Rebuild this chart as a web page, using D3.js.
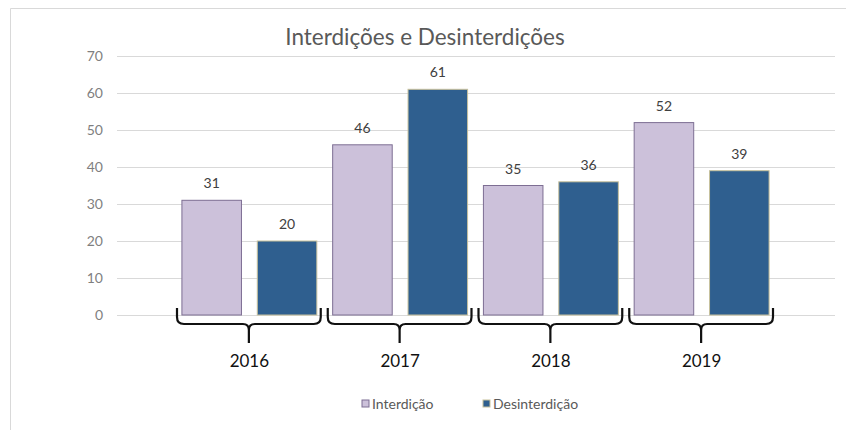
<!DOCTYPE html>
<html>
<head>
<meta charset="utf-8">
<script src="https://cdn.jsdelivr.net/npm/d3@7"></script>
<style>
  body { margin: 0; background: #fff; }
  svg text { font-family: Lato, 'Open Sans', sans-serif; }
</style>
</head>
<body>
<svg id="chart" width="846" height="430"></svg>
<script>
const years = ['2016', '2017', '2018', '2019'];
const seriesNames = ['Interdição', 'Desinterdição'];
const interdicao = [31, 46, 35, 52];
const desinterdicao = [20, 61, 36, 39];
const yTickValues = [0, 10, 20, 30, 40, 50, 60, 70];
const colors = ['#ccc1da', '#2f5f8f'];
const strokes = ['#7d6e93', '#c8c19c'];

const width = 846;
const height = 430;
const margin = { top: 56, right: 11, bottom: 115, left: 117 };

const rows = years.map((year, i) => ({
  year,
  values: [interdicao[i], desinterdicao[i]],
}));

const svg = d3.select('#chart');

// outer frame (only top and left edges show)
svg.append('line')
  .attr('x1', 10.5).attr('x2', width).attr('y1', 8.5).attr('y2', 8.5)
  .attr('stroke', '#d9d9d9');
svg.append('line')
  .attr('x1', 10.5).attr('x2', 10.5).attr('y1', 8.5).attr('y2', height)
  .attr('stroke', '#d9d9d9');

const x0 = d3.scaleBand()
  .domain(years)
  .range([174, 777])
  .padding(0);

const x1 = d3.scaleBand()
  .domain(seriesNames)
  .range([0, x0.bandwidth()])
  .paddingInner(0.21)
  .paddingOuter(0.105);

const y = d3.scaleLinear()
  .domain([0, 70])
  .range([height - margin.bottom, margin.top]);

// grid + y labels
const yAxis = (g) =>
  g.attr('transform', `translate(${margin.left},0)`)
    .call(d3.axisLeft(y).tickValues(yTickValues).tickSize(-(835 - margin.left)).tickPadding(14))
    .call((g) => g.select('.domain').remove())
    .call((g) => g.selectAll('.tick line').attr('stroke', '#d9d9d9'))
    .call((g) => g.selectAll('.tick text')
      .attr('fill', '#7f7f7f')
      .attr('font-size', 14));
svg.append('g').call(yAxis);

// bars
const groups = svg.append('g')
  .selectAll('g')
  .data(rows)
  .join('g')
  .attr('transform', (d) => `translate(${x0(d.year)},0)`);

groups.selectAll('rect')
  .data((d) => d.values.map((v, i) => ({ key: seriesNames[i], value: v, i })))
  .join('rect')
  .attr('x', (d) => x1(d.key))
  .attr('y', (d) => y(d.value))
  .attr('width', x1.bandwidth())
  .attr('height', (d) => y(0) - y(d.value))
  .attr('fill', (d) => colors[d.i])
  .attr('stroke', (d) => strokes[d.i])
  .attr('stroke-width', 1);

groups.selectAll('text.val')
  .data((d) => d.values.map((v, i) => ({ key: seriesNames[i], value: v })))
  .join('text')
  .attr('class', 'val')
  .attr('x', (d) => x1(d.key) + x1.bandwidth() / 2)
  .attr('y', (d) => y(d.value) - 12)
  .attr('text-anchor', 'middle')
  .attr('font-size', 14)
  .attr('fill', '#404040')
  .text((d) => d.value);

// braces under each year
const braceTop = y(0) - 7;
const braceY = y(0) + 9;
const tipY = y(0) + 28;
const bracePath = (a, b) => {
  const m = (a + b) / 2;
  return `M${a},${braceTop} L${a},${braceY - 7} Q${a},${braceY} ${a + 7},${braceY}` +
    ` L${m - 6},${braceY} Q${m},${braceY} ${m},${braceY + 6} L${m},${tipY}` +
    ` M${m},${braceY + 6} Q${m},${braceY} ${m + 6},${braceY}` +
    ` L${b - 7},${braceY} Q${b},${braceY} ${b},${braceY - 7} L${b},${braceTop}`;
};
svg.append('g')
  .selectAll('path')
  .data(years)
  .join('path')
  .attr('d', (d) => bracePath(x0(d) + 3, x0(d) + x0.bandwidth() - 4))
  .attr('fill', 'none')
  .attr('stroke', '#111')
  .attr('stroke-width', 2.2);

svg.append('g')
  .selectAll('text')
  .data(years)
  .join('text')
  .attr('x', (d) => x0(d) + x0.bandwidth() / 2)
  .attr('y', 367)
  .attr('text-anchor', 'middle')
  .attr('font-size', 17)
  .attr('fill', '#111')
  .text((d) => d);

// title
svg.append('text')
  .attr('x', 425)
  .attr('y', 45)
  .attr('text-anchor', 'middle')
  .attr('font-size', 22.5)
  .attr('fill', '#595959')
  .text('Interdições e Desinterdições');

// legend
const legendX = [362, 483];
const legend = svg.append('g')
  .selectAll('g')
  .data(seriesNames)
  .join('g')
  .attr('transform', (d, i) => `translate(${legendX[i]},400)`);
legend.append('rect')
  .attr('width', 7).attr('height', 7)
  .attr('fill', (d, i) => colors[i])
  .attr('stroke', (d, i) => strokes[i]);
legend.append('text')
  .attr('x', 10)
  .attr('y', 9)
  .attr('font-size', 14)
  .attr('fill', '#595959')
  .text((d) => d);
</script>
</body>
</html>
